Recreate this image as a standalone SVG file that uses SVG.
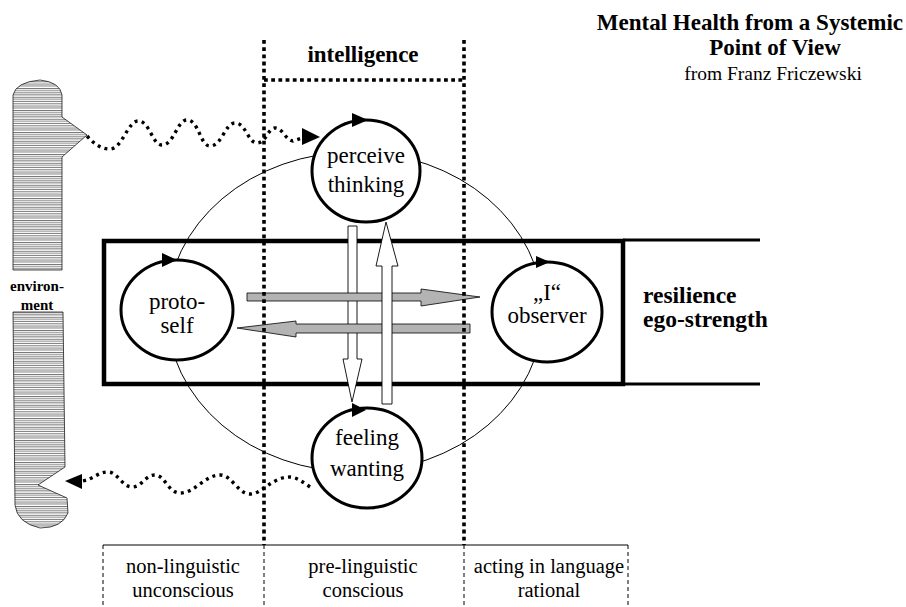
<svg xmlns="http://www.w3.org/2000/svg" width="906" height="607" viewBox="0 0 906 607">
<style>
.t{font-family:"Liberation Serif","Times New Roman",serif;fill:#000}
.n{font-size:23px;text-anchor:middle}
.b{font-weight:bold}
.lab{font-size:20.5px;text-anchor:middle}
.dot{fill:none;stroke:#000;stroke-width:3.6;stroke-dasharray:3.8 3.4}
.wave{fill:none;stroke:#000;stroke-width:3.4;stroke-dasharray:3 4.2}
.node{fill:#fff;stroke:#000;stroke-width:3}
.gray{fill:#b3b3b3;stroke:#000;stroke-width:0.8}
.white{fill:#fff;stroke:#000;stroke-width:0.9}
.dash{stroke:#000;stroke-width:1;stroke-dasharray:4 3}
</style>
<defs>
<pattern id="hatch" width="20" height="4.4" patternUnits="userSpaceOnUse">
<line x1="0" y1="0.4" x2="20" y2="0.4" stroke="#000" stroke-width="0.55"/>
<line x1="0" y1="2.5" x2="20" y2="2.5" stroke="#000" stroke-width="0.55"/>
</pattern>
</defs>
<rect width="906" height="607" fill="#fff"/>

<!-- title -->
<text class="t b" x="903" y="30" font-size="23" text-anchor="end">Mental Health from a Systemic</text>
<text class="t b" x="775" y="55" font-size="23" text-anchor="middle">Point of View</text>
<text class="t" x="773" y="80" font-size="19.5" text-anchor="middle">from Franz Friczewski</text>

<!-- environment -->
<g id="environment">
<path d="M13,95 Q16,82 40,80 Q60,82 62,95 L62,117 L87,135 L62,157 L62,270 L13,270 Z" fill="url(#hatch)" stroke="#000" stroke-width="0.7"/>
<path d="M13,312 L63,312 L65,467 L38,485 L67,498 L68,513 Q62,528 40,528 Q17,523 15,505 Z" fill="url(#hatch)" stroke="#000" stroke-width="0.7"/>
<text class="t b" x="37" y="291" font-size="15" text-anchor="middle">environ-</text>
<text class="t b" x="37" y="310" font-size="15" text-anchor="middle">ment</text>
</g>

<!-- big thin ellipse -->
<ellipse cx="355" cy="312" rx="188" ry="160" fill="none" stroke="#000" stroke-width="1"/>

<!-- resilience box -->
<g id="resilience">
<rect x="104" y="241" width="519" height="143" fill="none" stroke="#000" stroke-width="4.5"/>
<line x1="623" y1="240" x2="760" y2="240" stroke="#000" stroke-width="3"/>
<line x1="623" y1="384" x2="760" y2="384" stroke="#000" stroke-width="3"/>
<text class="t b" x="643" y="303" font-size="23.5">resilience</text>
<text class="t b" x="643" y="327" font-size="23.5">ego-strength</text>
</g>

<!-- nodes -->
<g id="perceive">
<ellipse class="node" cx="366" cy="171" rx="54" ry="51"/>
<polygon points="352,113 368,120 352,127" fill="#000"/>
<text class="t n" x="366" y="163">perceive</text>
<text class="t n" x="366" y="192">thinking</text>
</g>
<g id="protoself">
<ellipse class="node" cx="177" cy="310" rx="56" ry="50"/>
<polygon points="162,253 177,260 162,267" fill="#000"/>
<text class="t n" x="177" y="309">proto-</text>
<text class="t n" x="177" y="333">self</text>
</g>
<g id="observer">
<ellipse class="node" cx="547" cy="312" rx="55" ry="50"/>
<polygon points="536,256 550,262 536,268" fill="#000"/>
<text class="t n" x="547" y="300">„I“</text>
<text class="t n" x="547" y="323">observer</text>
</g>
<g id="feeling">
<ellipse class="node" cx="367" cy="458" rx="55" ry="50"/>
<polygon points="352,403 366,410 352,417" fill="#000"/>
<text class="t n" x="367" y="445">feeling</text>
<text class="t n" x="367" y="476">wanting</text>
</g>

<!-- connectors -->
<g id="connectors">
<path class="wave" d="M87,136 C95,145 102,149 110,149 C122,149 128,121 138,121 C150,121 152,145 162,145 C174,145 177,120 187,120 C199,120 200,146 210,146 C222,146 225,123 235,123 C246,123 248,143 257,143 C266,143 268,128 275,128 C283,128 286,141 293,141 L302,138"/>
<polygon points="302,128 320,137 302,145" fill="#000"/>
<path class="wave" d="M310,487 C303,482 296,477 290,477 C272,477 262,494 250,494 C238,494 232,475 220,475 C205,475 195,493 180,493 C168,493 165,475 155,475 C145,475 142,487 132,487 C122,487 118,472 108,472 C98,472 94,479 82,481"/>
<polygon points="82,474 65,481 82,489" fill="#000"/>
<!-- white down arrow -->
<path class="white" d="M348,226 L357,226 L357,359 L362,359 L352,402 L343,359 L348,359 Z"/>
<!-- gray arrows -->
<path class="gray" d="M247,293 L421,293 L421,289 L480,297 L421,306 L421,301 L247,301 Z"/>
<path class="gray" d="M470,324 L296,324 L296,321 L237,328 L296,337 L296,333 L470,333 Z"/>
<!-- white up arrow -->
<path class="white" d="M382,404 L392,404 L392,266 L398,266 L386,222 L376,266 L382,266 Z"/>
</g>

<!-- intelligence dotted frame -->
<g id="intelligence">
<line class="dot" x1="264" y1="40" x2="264" y2="545"/>
<line class="dot" x1="464" y1="40" x2="464" y2="545"/>
<line class="dot" x1="264" y1="80" x2="464" y2="80"/>
<text class="t b" x="363" y="62" font-size="23" text-anchor="middle">intelligence</text>
</g>

<!-- bottom scale -->
<g id="scale">
<line x1="103" y1="545" x2="628" y2="545" stroke="#000" stroke-width="1"/>
<line class="dash" x1="103" y1="545" x2="103" y2="607"/>
<line class="dash" x1="264" y1="545" x2="264" y2="607"/>
<line class="dash" x1="464" y1="545" x2="464" y2="607"/>
<line class="dash" x1="628" y1="545" x2="628" y2="607"/>
<text class="t lab" x="183" y="573">non-linguistic</text>
<text class="t lab" x="183" y="597">unconscious</text>
<text class="t lab" x="363" y="573">pre-linguistic</text>
<text class="t lab" x="363" y="597">conscious</text>
<text class="t lab" x="549" y="573">acting in language</text>
<text class="t lab" x="549" y="597">rational</text>
</g>
</svg>
